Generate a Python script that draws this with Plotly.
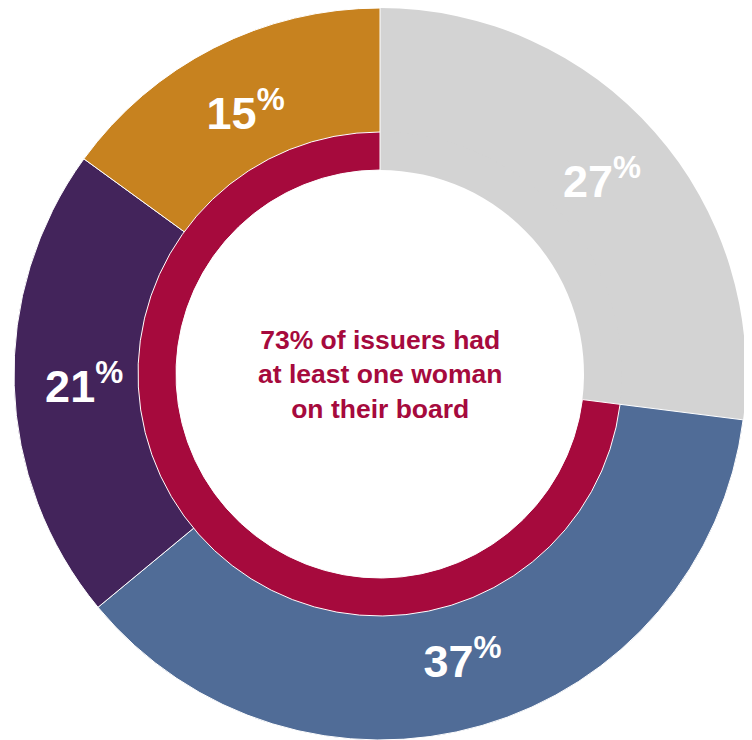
import plotly.graph_objects as go

# Data
categories = ["Grey", "Blue", "Purple", "Gold"]
values = [27, 37, 21, 15]
colors = ["#d3d3d3", "#506c97", "#43245b", "#c7821f"]
labels_text = ["27<sup>%</sup>", "37<sup>%</sup>", "21<sup>%</sup>", "15<sup>%</sup>"]

inner_categories = ["None", "At least one woman"]
inner_values = [27, 73]
inner_colors = ["#d3d3d3", "#a60a3d"]

center_text = "73% of issuers had<br>at least one woman<br>on their board"

# figure sits inside the page's default 8px body margin
W, H = 744, 732
cx, cy = 372, 366          # pixel centre within figure (from top)
r_out, r_mid, r_hole = 366, 242, 204
r_outer_hole = 226         # outer ring hole (hidden under inner ring), sets label radius

def dom(r):
    x0 = (cx - r) / W
    x1 = (cx + r) / W
    ycen = H - cy
    y0 = max((ycen - r) / H, 0)
    y1 = min((ycen + r) / H, 1)
    return dict(x=[x0, x1], y=[y0, y1])

fig = go.Figure()
fig.add_trace(go.Pie(
    labels=categories, values=values, text=labels_text,
    textinfo="text", textposition="inside", insidetextorientation="horizontal",
    marker=dict(colors=colors, line=dict(color="white", width=[0, 1, 1, 1])),
    hole=r_outer_hole / r_out, sort=False, direction="clockwise", rotation=0,
    domain=dom(r_out),
    textfont=dict(family="Liberation Sans", size=45, color="white", weight="bold"),
    hoverinfo="skip", showlegend=False,
))
fig.add_trace(go.Pie(
    labels=inner_categories, values=inner_values,
    textinfo="none",
    marker=dict(colors=inner_colors, line=dict(color=["rgba(0,0,0,0)", "white"], width=[0, 1])),
    hole=r_hole / r_mid, sort=False, direction="clockwise", rotation=0,
    domain=dom(r_mid),
    hoverinfo="skip", showlegend=False,
))
fig.add_annotation(
    x=cx / W, y=(H - cy) / H, xref="paper", yref="paper",
    text=center_text, showarrow=False,
    font=dict(family="Liberation Sans", size=26.5, color="#a60a3d", weight="bold"),
    align="center", xanchor="center", yanchor="middle",
)
fig.update_layout(
    width=W, height=H, autosize=False,
    margin=dict(l=0, r=0, t=0, b=0),
    paper_bgcolor="white", plot_bgcolor="white",
)
fig.write_html("out.html")
